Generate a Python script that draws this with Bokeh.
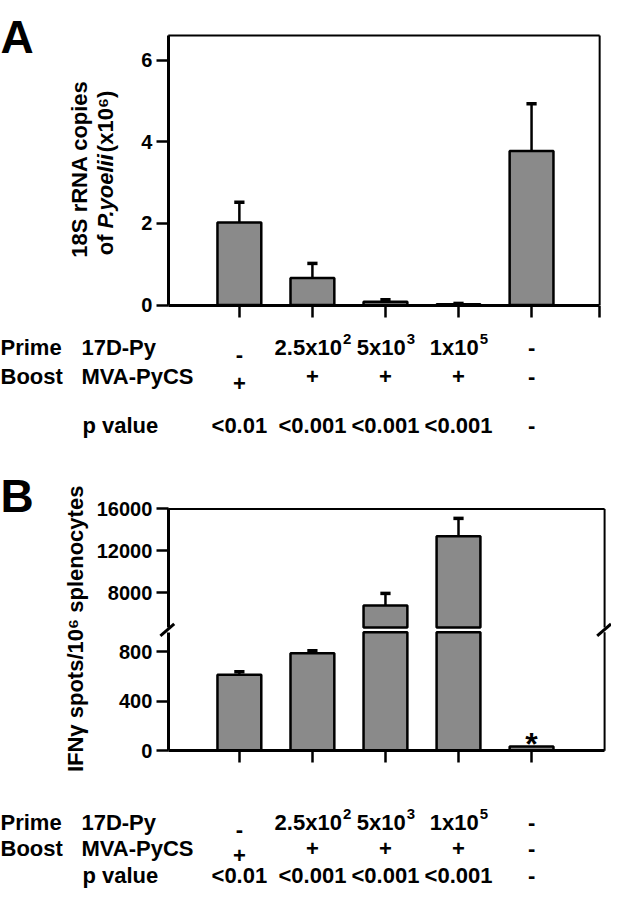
import numpy as np
from bokeh.plotting import figure
from bokeh.models import (Range1d, LinearAxis, FixedTicker, ColumnDataSource,
                          CustomJSTickFormatter)
from bokeh.core.properties import value
from bokeh.embed import file_html
from bokeh.resources import INLINE

# ---------------- data ----------------
groups = [1, 2, 3, 4, 5]
parasite_load = [2.02, 0.66, 0.08, 0.02, 3.77]      # 18S rRNA copies (x10^6)
parasite_err = [0.50, 0.36, 0.05, 0.02, 1.16]
ifng_spots = [615, 790, 6800, 13400, 35]            # IFN-g spots / 10^6 splenocytes
ifng_err = [25, 20, 1150, 1700, 0]
prime_labels = ["-", "2.5x10²", "5x10³", "1x10⁵", "-"]
boost_labels = ["+", "+", "+", "+", "-"]
pvalues_A = ["<0.01", "<0.001", "<0.001", "<0.001", "-"]
pvalues_B = ["<0.01", "<0.001", "<0.001", "<0.001", "-"]
row_titles = ["Prime", "Boost"]
row_vectors = ["17D-Py", "MVA-PyCS"]
ticks_A = [0, 2, 4, 6]
ticks_B_low = [0, 400, 800]
ticks_B_up = [8000, 12000, 16000]
A_TOP = 6.6
LOW_MAX = 960
UP_MIN, UP_MAX = 4700, 16000

# ---------------- layout (reference pixels, mapped onto the canvas) ----------------
REF_W, REF_H = 619, 899
W, H = 611, 891
X_C1, X_STEP = 242.0, 74.0


def xdata(px):
    return 1 + (px - X_C1) / X_STEP


def yrange(a, b):
    # ref_y = a - b * v
    return Range1d(start=(a - REF_H) / b, end=a / b)


A_Y0, A_PPU = 307.3, 41.2
BL_Y0, BL_PPU = 757.0, 0.1246
BU_PPU = 0.010588
BU_A = 513.0 + UP_MAX * BU_PPU

XL_A, XR_A = xdata(170), xdata(607)
XL_B, XR_B = xdata(170), xdata(612)

FONT = value("Liberation Sans")
GRAY = "#8a8a8a"
TFS = 22          # table font size
SUP_FS = 15       # superscript font size
COL_DY = [7, 0, 0, 0, 0]   # first column signs sit lower in the original

p = figure(width=W, height=H, x_range=Range1d(xdata(0), xdata(REF_W)),
           y_range=yrange(A_Y0, A_PPU), x_axis_type=None, y_axis_type=None,
           min_border=0, toolbar_location=None, output_backend="svg")
p.outline_line_color = None
p.extra_y_ranges = {"Bl": yrange(BL_Y0, BL_PPU), "Bu": yrange(BU_A, BU_PPU),
                    "px": Range1d(start=REF_H, end=0)}
p.extra_x_ranges = {"pxx": Range1d(start=0, end=REF_W)}


def style_axis(ax, labels=True):
    ax.axis_line_width = 3
    ax.axis_line_color = "black"
    ax.major_tick_line_width = 2.5
    ax.major_tick_out = 12
    ax.major_tick_in = 0
    ax.minor_tick_out = 0
    ax.minor_tick_in = 0
    ax.major_label_text_font = "Liberation Sans"
    ax.major_label_text_font_style = "bold"
    ax.major_label_text_font_size = "20px"
    ax.major_label_text_color = "black"
    ax.major_label_standoff = 4
    if not labels:
        ax.formatter = CustomJSTickFormatter(code="return ''")


# ---------------- Panel A ----------------
axA = LinearAxis(fixed_location=XL_A, bounds=(0, A_TOP), ticker=FixedTicker(ticks=ticks_A))
style_axis(axA)
p.add_layout(axA, "left")
axAx = LinearAxis(fixed_location=0, bounds=(XL_A, XR_A), ticker=FixedTicker(ticks=groups + [XR_A]))
style_axis(axAx, labels=False)
p.add_layout(axAx, "below")

p.segment(x0=[XL_A, XR_A], y0=[A_TOP, 0], x1=[XR_A, XR_A], y1=[A_TOP, A_TOP],
          line_color="black", line_width=2)

srcA = ColumnDataSource(dict(x=groups, top=parasite_load,
                             up=[v + e for v, e in zip(parasite_load, parasite_err)]))
p.vbar(x="x", top="top", bottom=0, width=0.6, source=srcA, fill_color=GRAY,
       line_color="black", line_width=2.5)
p.segment(x0="x", y0="top", x1="x", y1="up", source=srcA, line_color="black", line_width=2.5)
capA = dict(x0=[g - 0.07 for g in groups], x1=[g + 0.07 for g in groups],
            y=[v + e for v, e in zip(parasite_load, parasite_err)])
p.segment(x0="x0", y0="y", x1="x1", y1="y", source=ColumnDataSource(capA),
          line_color="black", line_width=3.5)

# ---------------- Panel B ----------------
axBl = LinearAxis(y_range_name="Bl", fixed_location=XL_B, bounds=(0, LOW_MAX),
                  ticker=FixedTicker(ticks=ticks_B_low))
style_axis(axBl)
p.add_layout(axBl, "left")
axBu = LinearAxis(y_range_name="Bu", fixed_location=XL_B, bounds=(UP_MIN, UP_MAX),
                  ticker=FixedTicker(ticks=ticks_B_up))
style_axis(axBu)
p.add_layout(axBu, "left")
axBx = LinearAxis(y_range_name="Bl", fixed_location=0, bounds=(XL_B, XR_B),
                  ticker=FixedTicker(ticks=groups))
style_axis(axBx, labels=False)
p.add_layout(axBx, "below")

p.segment(x0=[XL_B, XR_B], y0=[UP_MAX, UP_MIN], x1=[XR_B, XR_B], y1=[UP_MAX, UP_MAX],
          y_range_name="Bu", line_color="black", line_width=2)
p.segment(x0=[XR_B], y0=[0], x1=[XR_B], y1=[LOW_MAX], y_range_name="Bl",
          line_color="black", line_width=2)

low_top = [min(v, LOW_MAX) for v in ifng_spots]
p.vbar(x=groups, top=low_top, bottom=0, width=0.6, y_range_name="Bl", fill_color=GRAY,
       line_color="black", line_width=2.5)
up_idx = [i for i, v in enumerate(ifng_spots) if v > UP_MIN]
p.vbar(x=[groups[i] for i in up_idx], top=[ifng_spots[i] for i in up_idx], bottom=UP_MIN,
       width=0.6, y_range_name="Bu", fill_color=GRAY, line_color="black", line_width=2.5)
for rname, idx in (("Bl", [i for i, v in enumerate(ifng_spots) if v <= LOW_MAX and ifng_err[i] > 0]),
                   ("Bu", [i for i in up_idx if ifng_err[i] > 0])):
    xs = [groups[i] for i in idx]
    y0 = [ifng_spots[i] for i in idx]
    y1 = [ifng_spots[i] + ifng_err[i] for i in idx]
    p.segment(x0=xs, y0=y0, x1=xs, y1=y1, y_range_name=rname, line_color="black", line_width=2.5)
    p.segment(x0=[x - 0.07 for x in xs], y0=y1, x1=[x + 0.07 for x in xs], y1=y1,
              y_range_name=rname, line_color="black", line_width=3.5)

# significance star above the control group
p.text(x=[groups[4]], y=[0], text=["*"], y_range_name="Bl", text_font=FONT,
       text_font_style="bold", text_font_size="32px", text_align="center",
       text_baseline="alphabetic", text_color="black", y_offset=-7)

# axis break marks
gap_y = ((BL_Y0 - LOW_MAX * BL_PPU) + (BU_A - UP_MIN * BU_PPU)) / 2
for cx in (169, 611.5):
    p.segment(x0=[cx - 7], y0=[gap_y + 6], x1=[cx + 7], y1=[gap_y - 6],
              x_range_name="pxx", y_range_name="px", line_color="black", line_width=3)

# ---------------- texts ----------------
p.text(x=[0, 0], y=[37, 500], text=["A", "B"], x_range_name="pxx", y_range_name="px",
       text_font=FONT, text_font_style="bold", text_font_size="46px",
       text_align="left", text_baseline="alphabetic", text_color="black")

rot = np.pi / 2
p.text(x=[80], y=[170], text=["18S rRNA copies"], angle=rot, x_range_name="pxx",
       y_range_name="px", text_font=FONT, text_font_style="bold", text_font_size="22px",
       text_align="center", text_baseline="middle", text_color="black")
line2 = [("of ", "bold", 27.0), ("P.yoelii", "bold italic", 77.0), (" (x10⁶)", "bold", 66.0)]
ystart = 172 + sum(w for _, _, w in line2) / 2
for txt, sty, wdt in line2:
    p.text(x=[106], y=[ystart], text=[txt], angle=rot, x_range_name="pxx", y_range_name="px",
           text_font=FONT, text_font_style=sty, text_font_size="22px",
           text_align="left", text_baseline="middle", text_color="black")
    ystart -= wdt
p.text(x=[76], y=[634], text=["IFNγ spots/10⁶ splenocytes"], angle=rot, x_range_name="pxx",
       y_range_name="px", text_font=FONT, text_font_style="bold", text_font_size="22px",
       text_align="center", text_baseline="middle", text_color="black")

# Arial/Liberation bold advance widths (em) for centring base + exponent pieces
ADV = {c: 0.556 for c in "0123456789x"}
ADV.update({".": 0.278, "-": 0.333})
SUP = {"²": "2", "³": "3", "⁵": "5", "⁶": "6"}


def split_sup(s):
    base = "".join(c for c in s if c not in SUP)
    exp = "".join(SUP[c] for c in s if c in SUP)
    return base, exp


def text_row(labels, yy):
    plain = dict(x=[], y=[], t=[], dy=[])
    bx, by, bt, bo = [], [], [], []
    ex, ey, et, eo = [], [], [], []
    for k, (g, s) in enumerate(zip(groups, labels)):
        base, exp = split_sup(s)
        if not exp:
            plain["x"].append(g); plain["y"].append(yy); plain["t"].append(s)
            plain["dy"].append(COL_DY[k] if s in ("-", "+") else 0)
            continue
        wb = sum(ADV.get(c, 0.556) for c in base) * TFS
        we = sum(ADV.get(c, 0.556) for c in exp) * SUP_FS
        left = -(wb + we) / 2
        bx.append(g); by.append(yy); bt.append(base); bo.append(left)
        ex.append(g); ey.append(yy); et.append(exp); eo.append(left + wb + 1)
    common = dict(y_range_name="px", text_font=FONT, text_font_style="bold",
                  text_baseline="alphabetic", text_color="black")
    p.text(x="x", y="y", text="t", y_offset="dy", source=ColumnDataSource(plain),
           text_align="center", text_font_size=f"{TFS}px", **common)
    if bt:
        p.text(x=bx, y=by, text=bt, x_offset=bo, text_align="left",
               text_font_size=f"{TFS}px", **common)
        p.text(x=ex, y=ey, text=et, x_offset=eo, y_offset=-8, text_align="left",
               text_font_size=f"{SUP_FS}px", **common)


tables = [((350, 379, 429), pvalues_A), ((829, 856, 883), pvalues_B)]
for (yp, yb, yv), pv in tables:
    p.text(x=[0, 82, 0, 82, 83], y=[yp, yp, yb, yb, yv],
           text=[row_titles[0], row_vectors[0], row_titles[1], row_vectors[1], "p value"],
           x_range_name="pxx", y_range_name="px", text_font=FONT, text_font_style="bold",
           text_font_size=f"{TFS}px", text_align="left", text_baseline="alphabetic",
           text_color="black")
    text_row(prime_labels, yp)
    text_row(boost_labels, yb)
    text_row(pv, yv)

open("out.html", "w").write(file_html(p, INLINE))
